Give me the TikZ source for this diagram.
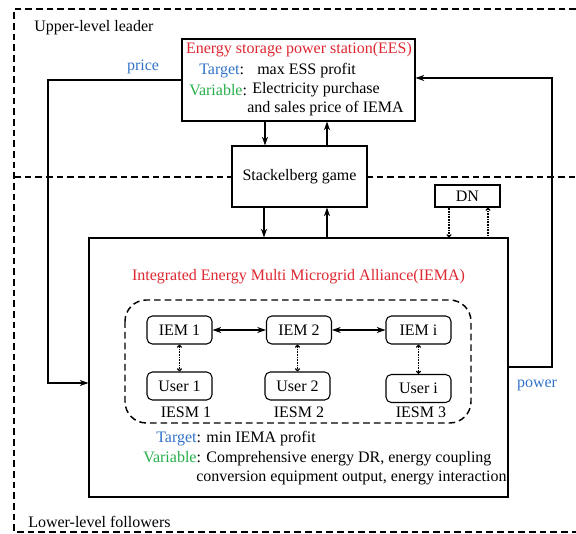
\documentclass[tikz,border=0pt]{standalone}
\usepackage{fontspec}
\setmainfont{Liberation Serif}
\usetikzlibrary{arrows.meta}
\definecolor{eesred}{RGB}{222,40,50}
\definecolor{tgtblue}{RGB}{50,115,200}
\definecolor{vargreen}{RGB}{40,175,75}
\tikzset{
  box/.style={draw, fill=white, line width=0.8pt, inner sep=0pt},
  unitbox/.style={box, rounded corners=4pt, minimum width=48.75pt, minimum height=21pt},
  txt/.style={inner sep=0pt},
  level/.style={line width=1.2pt, dash pattern=on 5pt off 3pt},
  flow/.style={line width=0.8pt, ->, >={Stealth[length=6.5pt,width=4.5pt]}},
  flows/.style={line width=0.8pt, <->, >={Stealth[length=6.5pt,width=4.5pt]}},
  dotflow/.style={line width=1pt, dash pattern=on 0.7pt off 0.5pt, >={To[length=2.5pt,width=4pt]}},
}
\begin{document}
\begin{tikzpicture}[x=0.75pt,y=-0.75pt,font=\fontsize{12}{14}\selectfont]
\useasboundingbox (0,0) rectangle (576,534);
% leader / follower levels
\draw[level] (576,9) -- (14,9) -- (14,532) -- (576,532);
\draw[level] (14,177) -- (576,177);
\node[txt, anchor=west] (upper) at (34,28) {Upper-level leader};
\node[txt, anchor=west] (lower) at (28,522) {Lower-level followers};

% upper level: energy storage power station
\node[box, minimum width=174.75pt, minimum height=61.5pt] (ees) at (298.5,80) {};
\node[txt, text=eesred] (eestitle) at (299,50) {Energy storage power station(EES)};
\node[txt, anchor=west] (eestgt) at (199,71) {\textcolor{tgtblue}{Target}:};
\node[txt, anchor=west] (eesmax) at (257,71) {max ESS profit};
\node[txt, anchor=west] (eesvar) at (189,90) {\textcolor{vargreen}{Variable}:};
\node[txt, anchor=west] (eesvar1) at (252,90) {Electricity purchase};
\node[txt, anchor=west] (eesvar2) at (247,109) {and sales price of IEMA};

\node[box, minimum width=101.25pt, minimum height=45.75pt] (stack) at (299.5,176.5) {Stackelberg game};
\node[box, minimum width=48.75pt, minimum height=16.5pt] (dn) at (467.5,196) {DN};

% lower level: alliance
\node[box, minimum width=314.25pt, minimum height=194.25pt] (iema) at (298.5,367.5) {};
\node[txt, text=eesred] (iematitle) at (298.5,277) {Integrated Energy Multi Microgrid Alliance(IEMA)};
\draw[level, line width=1.1pt, rounded corners=16pt] (125,300) rectangle (471,423);

\node[unitbox] (iem1) at (179.5,330) {IEM 1};
\node[unitbox] (iem2) at (299,330) {IEM 2};
\node[unitbox] (iemi) at (418.5,330) {IEM i};
\node[unitbox] (user1) at (179.5,386) {User 1};
\node[unitbox] (user2) at (297.5,386) {User 2};
\node[unitbox] (useri) at (418.5,388.5) {User i};
\node[txt] (iesm1) at (186,412) {IESM 1};
\node[txt] (iesm2) at (299,412) {IESM 2};
\node[txt] (iesm3) at (421,412) {IESM 3};

\node[txt, anchor=west] (iematgt) at (156,439) {\textcolor{tgtblue}{Target}: min IEMA profit};
\node[txt, anchor=west] (iemavar1) at (143,459) {\textcolor{vargreen}{Variable}: Comprehensive energy DR, energy coupling};
\node[txt, anchor=west] (iemavar2) at (196,478) {conversion equipment output, energy interaction};

% game interaction
\draw[flow] (265,0 |- ees.south) -- (265,0 |- stack.north);
\draw[flow] (327,0 |- stack.north) -- (327,0 |- ees.south);
\draw[flow] (264,0 |- stack.south) -- (264,0 |- iema.north);
\draw[flow] (327,0 |- iema.north) -- (327,0 |- stack.south);
\draw[dotflow, ->] (449,0 |- dn.south) -- (449,0 |- iema.north);
\draw[dotflow, ->] (488,0 |- iema.north) -- (488,0 |- dn.south);

% price and power
\draw[flow] (ees.west |- 0,80) -- (48,80) -- (48,383) -- (iema.west |- 0,383);
\node[txt, text=tgtblue] (price) at (143,67) {price};
\draw[flow] (iema.east |- 0,367) -- (552,367) -- (552,78) -- (ees.east |- 0,78);
\node[txt, text=tgtblue] (power) at (537,385) {power};

% inside the alliance
\draw[flows] (iem1) -- (iem2);
\draw[flows] (iem2) -- (iemi);
\draw[dotflow, <->] (iem1) -- (user1);
\draw[dotflow, <->] (iem2.south -| user2) -- (user2);
\draw[dotflow, <->] (iemi) -- (useri);
\end{tikzpicture}
\end{document}
